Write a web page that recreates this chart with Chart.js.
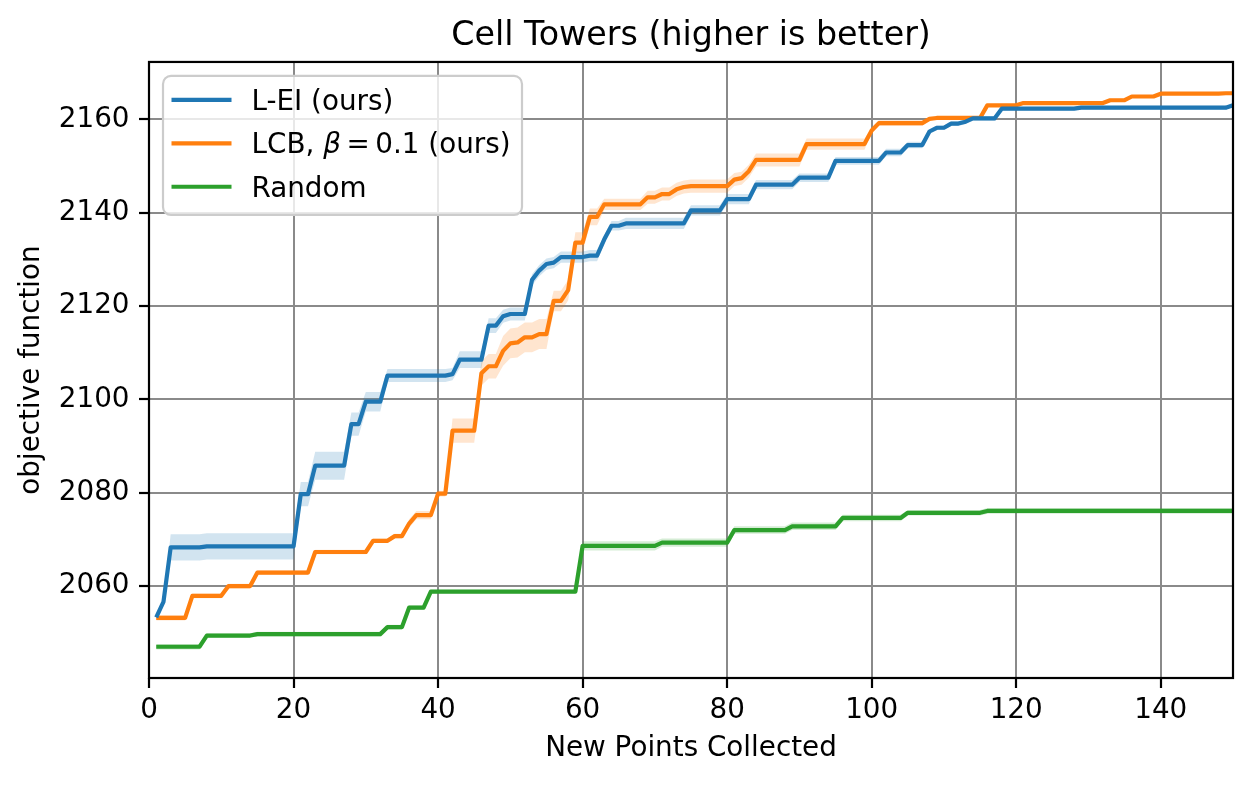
<!DOCTYPE html>
<html>
<head>
<meta charset="utf-8">
<script src="https://cdn.jsdelivr.net/npm/chart.js@4.4.0/dist/chart.umd.min.js"></script>
<style>
html,body{margin:0;padding:0;background:#ffffff;}
#wrap{width:1254px;height:785px;}
</style>
</head>
<body>
<div id="wrap"><canvas id="c" width="1254" height="785"></canvas></div>
<script>
// ---------- data ----------
const chartTitle = 'Cell Towers (higher is better)';
const xAxisLabel = 'New Points Collected';
const yAxisLabel = 'objective function';
const seriesNames = ['L-EI (ours)', 'LCB, β = 0.1 (ours)', 'Random'];
const seriesColors = ['#1f77b4', '#ff7f0e', '#2ca02c'];
const bandColors = ['rgba(31,119,180,0.2)', 'rgba(255,127,14,0.2)', 'rgba(44,160,44,0.2)'];

const pointsCollected = [
  1,2,3,4,5,6,7,8,9,10,11,12,13,14,15,16,17,18,19,20,
  21,22,23,24,25,26,27,28,29,30,31,32,33,34,35,36,37,38,39,40,
  41,42,43,44,45,46,47,48,49,50,51,52,53,54,55,56,57,58,59,60,
  61,62,63,64,65,66,67,68,69,70,71,72,73,74,75,76,77,78,79,80,
  81,82,83,84,85,86,87,88,89,90,91,92,93,94,95,96,97,98,99,100,
  101,102,103,104,105,106,107,108,109,110,111,112,113,114,115,116,117,118,119,120,
  121,122,123,124,125,126,127,128,129,130,131,132,133,134,135,136,137,138,139,140,
  141,142,143,144,145,146,147,148,149,150
];

const leiMean = [
  2053.3,2056.6,2068.3,2068.3,2068.3,2068.3,2068.3,2068.5,2068.5,2068.5,
  2068.5,2068.5,2068.5,2068.5,2068.5,2068.5,2068.5,2068.5,2068.5,2068.5,
  2079.7,2079.7,2085.8,2085.8,2085.8,2085.8,2085.8,2094.7,2094.7,2099.5,
  2099.5,2099.5,2105.1,2105.1,2105.1,2105.1,2105.1,2105.1,2105.1,2105.1,
  2105.1,2105.4,2108.5,2108.5,2108.5,2108.5,2115.8,2115.8,2117.8,2118.3,
  2118.3,2118.3,2125.6,2127.6,2129.0,2129.3,2130.5,2130.5,2130.5,2130.5,
  2130.8,2130.8,2134.3,2137.2,2137.2,2137.7,2137.7,2137.7,2137.7,2137.7,
  2137.7,2137.7,2137.7,2137.7,2140.5,2140.5,2140.5,2140.5,2140.5,2142.9,
  2142.9,2142.9,2142.9,2146.0,2146.0,2146.0,2146.0,2146.0,2146.0,2147.5,
  2147.5,2147.5,2147.5,2147.5,2151.1,2151.1,2151.1,2151.1,2151.1,2151.1,
  2151.1,2152.9,2152.9,2152.9,2154.5,2154.5,2154.5,2157.4,2158.2,2158.2,
  2159.1,2159.1,2159.5,2160.2,2160.2,2160.2,2160.2,2162.3,2162.3,2162.3,
  2162.3,2162.3,2162.3,2162.3,2162.3,2162.3,2162.3,2162.3,2162.5,2162.5,
  2162.5,2162.5,2162.5,2162.5,2162.5,2162.5,2162.5,2162.5,2162.5,2162.5,
  2162.5,2162.5,2162.5,2162.5,2162.5,2162.5,2162.5,2162.5,2162.5,2163.0
];
const leiErr = [
  0.3,0.6,2.8,2.8,2.8,2.8,2.8,2.8,2.8,2.8,
  2.8,2.8,2.8,2.8,2.8,2.8,2.8,2.8,2.8,2.8,
  2.6,2.6,3.0,3.0,3.0,3.0,3.0,2.5,2.5,2.1,
  2.1,2.1,1.4,1.4,1.4,1.4,1.4,1.4,1.4,1.4,
  1.4,1.3,1.8,1.8,1.8,1.8,1.6,1.6,1.4,1.4,
  1.4,1.4,1.2,1.2,1.2,1.2,1.2,1.2,1.2,1.2,
  1.2,1.2,1.0,1.0,1.0,1.2,1.2,1.2,1.2,1.2,
  1.2,1.2,1.2,1.2,1.1,1.1,1.1,1.1,1.1,1.1,
  1.1,1.1,1.1,1.0,1.0,1.0,1.0,1.0,1.0,0.9,
  0.9,0.9,0.9,0.9,0.85,0.85,0.85,0.85,0.85,0.85,
  0.85,0.8,0.8,0.8,0.7,0.7,0.7,0.5,0.5,0.5,
  0.5,0.5,0.5,0.5,0.5,0.5,0.5,0.4,0.4,0.4,
  0.4,0.4,0.4,0.4,0.4,0.4,0.4,0.4,0.4,0.4,
  0.4,0.4,0.4,0.4,0.4,0.4,0.4,0.4,0.4,0.4,
  0.4,0.4,0.4,0.4,0.4,0.4,0.4,0.4,0.4,0.4
];

const lcbMean = [
  2053.2,2053.2,2053.2,2053.2,2053.2,2057.9,2057.9,2057.9,2057.9,2057.9,
  2060.0,2060.0,2060.0,2060.0,2062.9,2062.9,2062.9,2062.9,2062.9,2062.9,
  2062.9,2062.9,2067.3,2067.3,2067.3,2067.3,2067.3,2067.3,2067.3,2067.3,
  2069.7,2069.7,2069.7,2070.7,2070.7,2073.4,2075.2,2075.2,2075.2,2079.8,
  2079.8,2093.3,2093.3,2093.3,2093.3,2105.6,2107.1,2107.1,2110.4,2112.0,
  2112.2,2113.3,2113.3,2114.0,2114.0,2121.1,2121.1,2123.4,2133.6,2133.6,
  2139.1,2139.1,2141.8,2141.8,2141.8,2141.8,2141.8,2141.8,2143.3,2143.3,
  2144.0,2144.0,2145.0,2145.5,2145.7,2145.7,2145.7,2145.7,2145.7,2145.7,
  2147.1,2147.4,2148.9,2151.3,2151.3,2151.3,2151.3,2151.3,2151.3,2151.3,
  2154.7,2154.7,2154.7,2154.7,2154.7,2154.7,2154.7,2154.7,2154.7,2157.6,
  2159.2,2159.2,2159.2,2159.2,2159.2,2159.2,2159.2,2160.1,2160.3,2160.3,
  2160.3,2160.3,2160.3,2160.3,2160.3,2163.0,2163.0,2163.0,2163.0,2163.0,
  2163.5,2163.5,2163.5,2163.5,2163.5,2163.5,2163.5,2163.5,2163.5,2163.5,
  2163.5,2163.5,2164.1,2164.1,2164.1,2164.9,2164.9,2164.9,2164.9,2165.5,
  2165.5,2165.5,2165.5,2165.5,2165.5,2165.5,2165.5,2165.5,2165.6,2165.6
];
const lcbErr = [
  0.6,0.6,0.6,0.6,0.6,0.5,0.5,0.5,0.5,0.5,
  0.5,0.5,0.5,0.5,0.5,0.5,0.5,0.5,0.5,0.5,
  0.5,0.5,0.5,0.5,0.5,0.5,0.5,0.5,0.5,0.5,
  0.5,0.5,0.5,0.5,0.5,0.9,0.9,0.9,0.9,0.6,
  0.6,2.6,2.6,2.6,2.6,2.6,2.6,2.6,3.2,3.2,
  3.2,3.2,3.2,3.2,3.2,2.2,2.2,2.2,2.2,2.2,
  1.8,1.8,1.2,1.2,1.2,1.2,1.2,1.2,1.4,1.4,
  1.4,1.4,1.4,1.4,1.4,1.4,1.4,1.4,1.4,1.4,
  1.4,1.4,1.4,1.4,1.4,1.4,1.4,1.4,1.4,1.4,
  1.2,1.2,1.2,1.2,1.2,1.2,1.2,1.2,1.2,0.6,
  0.6,0.6,0.6,0.6,0.6,0.6,0.6,0.3,0.3,0.3,
  0.3,0.3,0.3,0.3,0.3,0.3,0.3,0.3,0.3,0.3,
  0.3,0.3,0.3,0.3,0.3,0.3,0.3,0.3,0.3,0.3,
  0.3,0.3,0.3,0.3,0.3,0.3,0.3,0.3,0.3,0.3,
  0.3,0.3,0.3,0.3,0.3,0.3,0.3,0.3,0.3,0.3
];

const randMean = [
  2047.0,2047.0,2047.0,2047.0,2047.0,2047.0,2047.0,2049.4,2049.4,2049.4,
  2049.4,2049.4,2049.4,2049.4,2049.7,2049.7,2049.7,2049.7,2049.7,2049.7,
  2049.7,2049.7,2049.7,2049.7,2049.7,2049.7,2049.7,2049.7,2049.7,2049.7,
  2049.7,2049.7,2051.2,2051.2,2051.2,2055.4,2055.4,2055.4,2058.8,2058.8,
  2058.8,2058.8,2058.8,2058.8,2058.8,2058.8,2058.8,2058.8,2058.8,2058.8,
  2058.8,2058.8,2058.8,2058.8,2058.8,2058.8,2058.8,2058.8,2058.8,2068.6,
  2068.6,2068.6,2068.6,2068.6,2068.6,2068.6,2068.6,2068.6,2068.6,2068.6,
  2069.3,2069.3,2069.3,2069.3,2069.3,2069.3,2069.3,2069.3,2069.3,2069.3,
  2072.0,2072.0,2072.0,2072.0,2072.0,2072.0,2072.0,2072.0,2072.8,2072.8,
  2072.8,2072.8,2072.8,2072.8,2072.8,2074.6,2074.6,2074.6,2074.6,2074.6,
  2074.6,2074.6,2074.6,2074.6,2075.7,2075.7,2075.7,2075.7,2075.7,2075.7,
  2075.7,2075.7,2075.7,2075.7,2075.7,2076.1,2076.1,2076.1,2076.1,2076.1,
  2076.1,2076.1,2076.1,2076.1,2076.1,2076.1,2076.1,2076.1,2076.1,2076.1,
  2076.1,2076.1,2076.1,2076.1,2076.1,2076.1,2076.1,2076.1,2076.1,2076.1,
  2076.1,2076.1,2076.1,2076.1,2076.1,2076.1,2076.1,2076.1,2076.1,2076.1
];
const randErr = [
  0.6,0.6,0.6,0.6,0.6,0.6,0.6,0.5,0.5,0.5,
  0.5,0.5,0.5,0.5,0.5,0.5,0.5,0.5,0.5,0.5,
  0.5,0.5,0.5,0.5,0.5,0.5,0.5,0.5,0.5,0.5,
  0.5,0.5,0.5,0.5,0.5,0.5,0.5,0.5,0.4,0.4,
  0.4,0.4,0.4,0.4,0.4,0.4,0.4,0.4,0.4,0.4,
  0.4,0.4,0.4,0.4,0.4,0.4,0.4,0.4,0.4,1.0,
  1.0,1.0,1.0,1.0,1.0,1.0,1.0,1.0,1.0,1.0,
  0.9,0.9,0.9,0.9,0.9,0.9,0.9,0.9,0.9,0.9,
  0.8,0.8,0.8,0.8,0.8,0.8,0.8,0.8,0.8,0.8,
  0.8,0.8,0.8,0.8,0.8,0.7,0.7,0.7,0.7,0.7,
  0.7,0.7,0.7,0.7,0.6,0.6,0.6,0.6,0.6,0.6,
  0.6,0.6,0.6,0.6,0.6,0.6,0.6,0.6,0.6,0.6,
  0.6,0.6,0.6,0.6,0.6,0.6,0.6,0.6,0.6,0.6,
  0.6,0.6,0.6,0.6,0.6,0.6,0.6,0.6,0.6,0.6,
  0.6,0.6,0.6,0.6,0.6,0.6,0.6,0.6,0.6,0.6
];

const xTickStep = 20;
const yTickStep = 20;
const xLimits = [0, 150];
const yLimits = [2040.3, 2172.3];

// ---------- build datasets ----------
const means = [leiMean, lcbMean, randMean];
const errs = [leiErr, lcbErr, randErr];
const toPts = (arr) => pointsCollected.map((x, i) => ({x: x, y: arr[i]}));

const lineSets = means.map((m, k) => ({
  label: seriesNames[k],
  data: toPts(m),
  borderColor: seriesColors[k],
  backgroundColor: seriesColors[k],
  borderWidth: 4.2,
  pointRadius: 0,
  tension: 0,
  fill: false,
  borderJoinStyle: 'round',
  borderCapStyle: 'butt'
}));
const bandSets = [];
means.forEach((m, k) => {
  bandSets.push({
    label: seriesNames[k] + ' upper',
    isBand: true,
    data: toPts(m.map((v, i) => v + errs[k][i])),
    borderWidth: 0,
    borderColor: 'rgba(0,0,0,0)',
    backgroundColor: bandColors[k],
    pointRadius: 0,
    tension: 0,
    fill: '+1'
  });
  bandSets.push({
    label: seriesNames[k] + ' lower',
    isBand: true,
    data: toPts(m.map((v, i) => v - errs[k][i])),
    borderWidth: 0,
    borderColor: 'rgba(0,0,0,0)',
    backgroundColor: bandColors[k],
    pointRadius: 0,
    tension: 0,
    fill: false
  });
});

const FONT = "'DejaVu Sans', 'Liberation Sans', sans-serif";
const FS = 27.8;

// frame (spines) plugin
const framePlugin = {
  id: 'mplFrame',
  afterDatasetsDraw(chart) {
    const {ctx, chartArea: a} = chart;
    ctx.save();
    ctx.strokeStyle = '#000000';
    ctx.lineWidth = 2.2;
    ctx.strokeRect(a.left, a.top, a.right - a.left, a.bottom - a.top);
    ctx.restore();
  }
};

// matplotlib-like legend plugin
function roundRectPath(ctx, x, y, w, h, r) {
  ctx.beginPath();
  ctx.moveTo(x + r, y);
  ctx.lineTo(x + w - r, y);
  ctx.arcTo(x + w, y, x + w, y + r, r);
  ctx.lineTo(x + w, y + h - r);
  ctx.arcTo(x + w, y + h, x + w - r, y + h, r);
  ctx.lineTo(x + r, y + h);
  ctx.arcTo(x, y + h, x, y + h - r, r);
  ctx.lineTo(x, y + r);
  ctx.arcTo(x, y, x + r, y, r);
  ctx.closePath();
}
const legendPlugin = {
  id: 'mplLegend',
  afterDraw(chart) {
    const ctx = chart.ctx;
    const a = chart.chartArea;
    ctx.save();
    const bx = a.left + 14, by = a.top + 14, bw = 359, bh = 139;
    roundRectPath(ctx, bx, by, bw, bh, 8);
    ctx.fillStyle = 'rgba(255,255,255,0.8)';
    ctx.fill();
    ctx.lineWidth = 2.2;
    ctx.strokeStyle = '#cccccc';
    ctx.stroke();
    const items = chart.data.datasets.filter(d => !d.isBand);
    items.forEach((d, i) => {
      const cy = by + 24 + i * 43.4;
      ctx.strokeStyle = d.borderColor;
      ctx.lineWidth = 4.2;
      ctx.lineCap = 'butt';
      ctx.beginPath();
      ctx.moveTo(bx + 8.5, cy);
      ctx.lineTo(bx + 68.5, cy);
      ctx.stroke();
      ctx.fillStyle = '#000000';
      ctx.textBaseline = 'alphabetic';
      ctx.textAlign = 'left';
      let tx = bx + 88.5;
      const ty = cy + 10.1;
      const parts = d.label.split('β');
      parts.forEach((p, j) => {
        // math-mode spacing around "=" is narrower than a normal space
        const txt = j > 0 ? p.replace(' = ', '\u2009=\u2009') : p;
        ctx.font = FS + 'px ' + FONT;
        ctx.fillText(txt, tx, ty);
        tx += ctx.measureText(txt).width;
        if (j < parts.length - 1) {
          ctx.font = 'italic ' + FS + 'px ' + FONT;
          ctx.fillText('β', tx, ty);
          tx += ctx.measureText('β').width;
        }
      });
    });
    ctx.restore();
  }
};

Chart.defaults.color = '#000000';
Chart.defaults.font.family = FONT;

new Chart(document.getElementById('c'), {
  type: 'line',
  data: { datasets: lineSets.concat(bandSets) },
  options: {
    responsive: false,
    animation: false,
    devicePixelRatio: 1,
    parsing: true,
    layout: { padding: { left: 0, right: 21, top: 0, bottom: 0 } },
    plugins: {
      legend: { display: false },
      tooltip: { enabled: false },
      title: {
        display: true,
        fullSize: false,
        text: chartTitle,
        color: '#000000',
        font: { family: FONT, size: 33.3, weight: 'normal' },
        padding: { top: 16.5, bottom: 5.5 }
      },
      filler: { propagate: false }
    },
    scales: {
      x: {
        type: 'linear',
        min: xLimits[0],
        max: xLimits[1],
        afterFit: (s) => { s.height = 107; },
        ticks: {
          stepSize: xTickStep,
          includeBounds: false,
          autoSkip: false,
          maxRotation: 0,
          padding: 5.8,
          color: '#000000',
          font: { family: FONT, size: FS }
        },
        grid: {
          color: '#8a8a8a',
          lineWidth: 2,
          tickLength: 10,
          tickColor: '#000000',
          tickWidth: 2.2
        },
        border: { display: false },
        title: {
          display: true,
          text: xAxisLabel,
          color: '#000000',
          font: { family: FONT, size: FS },
          padding: { top: 0, bottom: 20 }
        }
      },
      y: {
        type: 'linear',
        min: yLimits[0],
        max: yLimits[1],
        afterFit: (s) => { s.width = 149; },
        ticks: {
          stepSize: yTickStep,
          includeBounds: false,
          autoSkip: false,
          padding: 9.5,
          color: '#000000',
          font: { family: FONT, size: FS },
          callback: (v) => String(v)
        },
        grid: {
          color: '#8a8a8a',
          lineWidth: 2,
          tickLength: 10,
          tickColor: '#000000',
          tickWidth: 2.2
        },
        border: { display: false },
        title: {
          display: true,
          text: yAxisLabel,
          color: '#000000',
          font: { family: FONT, size: FS },
          padding: { top: 15.4, bottom: 0 }
        }
      }
    }
  },
  plugins: [framePlugin, legendPlugin]
});
</script>
</body>
</html>
